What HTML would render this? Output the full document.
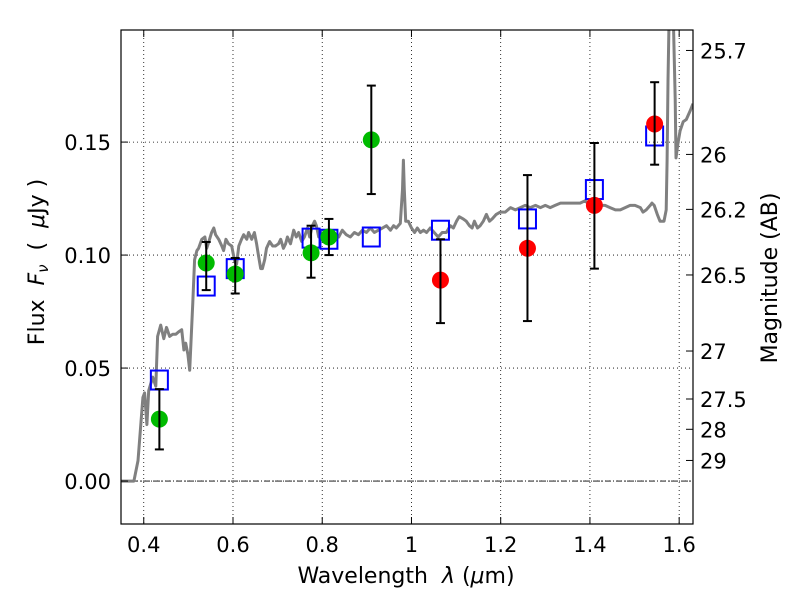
<!DOCTYPE html>
<html><head><meta charset="utf-8"><style>
body{margin:0;background:#fff;}
svg text{font-family:"DejaVu Sans","Liberation Sans",sans-serif;}
</style></head><body>
<svg id="chart" width="800" height="600" xmlns="http://www.w3.org/2000/svg">
<defs><clipPath id="plotclip"><rect x="121" y="30" width="572" height="494"/></clipPath></defs>
<rect x="0" y="0" width="800" height="600" fill="#fff"/>
<g id="grid"></g>
<g id="series" clip-path="url(#plotclip)"></g>
<rect x="121" y="30" width="572" height="494" fill="none" stroke="#000" stroke-width="1.2"/>
<g id="axes"></g>
<text x="406" y="583" font-size="22" text-anchor="middle">Wavelength&#160;&#160;<tspan font-style="italic">λ</tspan> (<tspan font-style="italic">μ</tspan>m)</text>
<text transform="translate(44,262) rotate(-90)" font-size="22" text-anchor="middle">Flux&#160;&#160;<tspan font-style="italic">F<tspan font-size="15" dy="4">ν</tspan></tspan><tspan dy="-4">&#160;&#160;(&#160;&#160;</tspan><tspan font-style="italic">μ</tspan>Jy )</text>
<text transform="translate(777,278) rotate(-90)" font-size="22" text-anchor="middle">Magnitude (AB)</text>
</svg>
<script>
const xTicks=[0.4,0.6,0.8,1.0,1.2,1.4,1.6];
const xTickLabels=["0.4","0.6","0.8","1","1.2","1.4","1.6"];
const yTicks=[0,0.05,0.10,0.15];
const yTickLabels=["0.00","0.05","0.10","0.15"];
const magTicks=[25.7,26,26.2,26.5,27,27.5,28,29];
const magTickLabels=["25.7","26","26.2","26.5","27","27.5","28","29"];
const specLam=[0.349,0.378,0.387,0.398,0.402,0.407,0.411,0.420,0.427,0.431,0.438,0.445,0.451,0.458,0.465,0.472,0.478,0.485,0.490,0.494,0.499,0.503,0.510,0.514,0.519,0.523,0.530,0.537,0.541,0.546,0.552,0.557,0.561,0.568,0.575,0.579,0.584,0.590,0.597,0.604,0.608,0.613,0.619,0.624,0.631,0.635,0.642,0.648,0.653,0.657,0.662,0.666,0.671,0.675,0.682,0.689,0.695,0.702,0.707,0.713,0.718,0.722,0.729,0.736,0.742,0.747,0.754,0.760,0.767,0.772,0.778,0.783,0.787,0.792,0.798,0.805,0.812,0.819,0.828,0.837,0.845,0.854,0.863,0.872,0.881,0.890,0.899,0.908,0.917,0.926,0.935,0.944,0.953,0.960,0.966,0.975,0.980,0.982,0.984,0.987,0.993,1.000,1.007,1.013,1.020,1.027,1.034,1.042,1.051,1.060,1.069,1.078,1.087,1.094,1.101,1.107,1.116,1.123,1.130,1.136,1.141,1.148,1.154,1.161,1.168,1.175,1.181,1.190,1.199,1.210,1.222,1.233,1.244,1.255,1.266,1.278,1.289,1.300,1.311,1.322,1.334,1.345,1.356,1.367,1.378,1.389,1.401,1.412,1.423,1.434,1.445,1.457,1.468,1.479,1.490,1.501,1.513,1.519,1.526,1.535,1.539,1.544,1.551,1.557,1.566,1.571,1.573,1.575,1.578,1.586,1.591,1.593,1.597,1.602,1.609,1.616,1.625,1.631];
const specFlux=[0,0,0.009,0.037,0.039,0.025,0.040,0.046,0.042,0.064,0.069,0.063,0.068,0.064,0.065,0.065,0.066,0.067,0.058,0.061,0.056,0.049,0.079,0.098,0.102,0.103,0.107,0.108,0.103,0.106,0.110,0.112,0.109,0.107,0.104,0.102,0.107,0.105,0.104,0.097,0.096,0.104,0.107,0.109,0.107,0.110,0.107,0.110,0.105,0.100,0.094,0.094,0.098,0.103,0.106,0.104,0.104,0.105,0.107,0.103,0.105,0.108,0.105,0.111,0.108,0.110,0.106,0.108,0.112,0.108,0.113,0.115,0.113,0.108,0.110,0.108,0.107,0.109,0.109,0.108,0.111,0.109,0.108,0.110,0.109,0.111,0.110,0.112,0.110,0.111,0.112,0.113,0.111,0.113,0.112,0.114,0.129,0.142,0.129,0.115,0.115,0.112,0.110,0.112,0.110,0.111,0.110,0.112,0.110,0.108,0.110,0.110,0.113,0.112,0.115,0.117,0.116,0.115,0.113,0.112,0.115,0.112,0.113,0.115,0.118,0.115,0.116,0.118,0.119,0.119,0.121,0.120,0.121,0.122,0.121,0.122,0.121,0.122,0.121,0.122,0.123,0.123,0.123,0.123,0.123,0.124,0.122,0.122,0.122,0.122,0.121,0.120,0.120,0.121,0.122,0.122,0.121,0.119,0.120,0.122,0.123,0.122,0.118,0.115,0.115,0.120,0.142,0.177,0.213,0.213,0.169,0.143,0.149,0.155,0.159,0.160,0.164,0.167];
const greenLam=[0.435,0.54,0.605,0.775,0.815,0.91];
const greenFlux=[0.0274,0.0965,0.0916,0.101,0.108,0.151];
const greenLo=[0.014,0.0845,0.083,0.090,0.100,0.127];
const greenHi=[0.0407,0.1058,0.0987,0.113,0.116,0.175];
const redLam=[1.065,1.26,1.41,1.545];
const redFlux=[0.0889,0.103,0.122,0.158];
const redLo=[0.0699,0.0708,0.094,0.140];
const redHi=[0.107,0.1354,0.1496,0.1765];
const modelLam=[0.435,0.54,0.605,0.775,0.815,0.91,1.065,1.26,1.41,1.545];
const modelFlux=[0.0447,0.0863,0.094,0.1075,0.107,0.108,0.111,0.116,0.129,0.1527];

const X0=121,X1=693,Y0=30,Y1=524;
const xmin=0.349,xmax=1.631,ymin=-0.019,ymax=0.1996;
function sx(v){return X0+(v-xmin)/(xmax-xmin)*(X1-X0);}
function sy(v){return Y1-(v-ymin)/(ymax-ymin)*(Y1-Y0);}
function magToFlux(m){return Math.pow(10,(23.9-m)/2.5);}
const NS="http://www.w3.org/2000/svg";
function mk(tag,attrs,parent){const e=document.createElementNS(NS,tag);for(const k in attrs)e.setAttribute(k,attrs[k]);parent.appendChild(e);return e;}
const grid=document.getElementById('grid'),series=document.getElementById('series'),axes=document.getElementById('axes');

xTicks.forEach((t,i)=>{
  const gl=mk('line',{x1:sx(t),x2:sx(t),y1:Y0,y2:Y1,stroke:'#000','stroke-width':0.8,'stroke-dasharray':'1,3'},grid);
  
  
  mk('line',{x1:sx(t),x2:sx(t),y1:Y1,y2:Y1-7,stroke:'#000','stroke-width':1},axes);
  mk('line',{x1:sx(t),x2:sx(t),y1:Y0,y2:Y0+7,stroke:'#000','stroke-width':1},axes);
  const tx=mk('text',{x:sx(t),y:Y1+28,'font-size':21,'text-anchor':'middle'},axes);
  tx.textContent=xTickLabels[i];
  
  
});
yTicks.forEach((t,i)=>{
  const gl=mk('line',{x1:X0,x2:X1,y1:sy(t),y2:sy(t),stroke:'#000','stroke-width':0.8,'stroke-dasharray':'1,3'},grid);
  
  
  mk('line',{x1:X0,x2:X0+7,y1:sy(t),y2:sy(t),stroke:'#000','stroke-width':1},axes);
  const tx=mk('text',{x:X0-10,y:sy(t)+8,'font-size':21,'text-anchor':'end'},axes);
  tx.textContent=yTickLabels[i];
  
  
});
magTicks.forEach((m,i)=>{
  const y=sy(magToFlux(m));
  mk('line',{x1:X1,x2:X1-7,y1:y,y2:y,stroke:'#000','stroke-width':1},axes);
  const tx=mk('text',{x:X1+7,y:y+8,'font-size':21,'text-anchor':'start'},axes);
  tx.textContent=magTickLabels[i];
  
  
});
const zl=mk('line',{x1:X0,x2:X1,y1:sy(0),y2:sy(0),stroke:'#000','stroke-width':0.8,'stroke-dasharray':'6,2,1,2'},series);



const pts=specLam.map((l,i)=>sx(l).toFixed(1)+','+sy(specFlux[i]).toFixed(1)).join(' ');
const sp=mk('polyline',{points:pts,fill:'none',stroke:'#808080','stroke-width':3,'stroke-linejoin':'round'},series);



modelLam.forEach((l,i)=>{
  const r=mk('rect',{x:sx(l)-8.5,y:sy(modelFlux[i])-9.5,width:17,height:19,fill:'none',stroke:'#0000ff','stroke-width':2},series);
  
  
});
function pointsWithErr(lam,flux,lo,hi,color,name){
  lam.forEach((l,i)=>{
    const c=mk('circle',{cx:sx(l),cy:sy(flux[i]),r:8.5,fill:color},series);
    
    
  });
  lam.forEach((l,i)=>{
    const g=mk('g',{stroke:'#000','stroke-width':2},series);
    
    
    const x=sx(l);
    mk('line',{x1:x,x2:x,y1:sy(lo[i]),y2:sy(hi[i])},g);
    mk('line',{x1:x-4.5,x2:x+4.5,y1:sy(lo[i]),y2:sy(lo[i])},g);
    mk('line',{x1:x-4.5,x2:x+4.5,y1:sy(hi[i]),y2:sy(hi[i])},g);
  });
}
pointsWithErr(greenLam,greenFlux,greenLo,greenHi,'#00bb00','green-photometry-point');
pointsWithErr(redLam,redFlux,redLo,redHi,'#ff0000','red-photometry-point');
</script>
</body></html>
